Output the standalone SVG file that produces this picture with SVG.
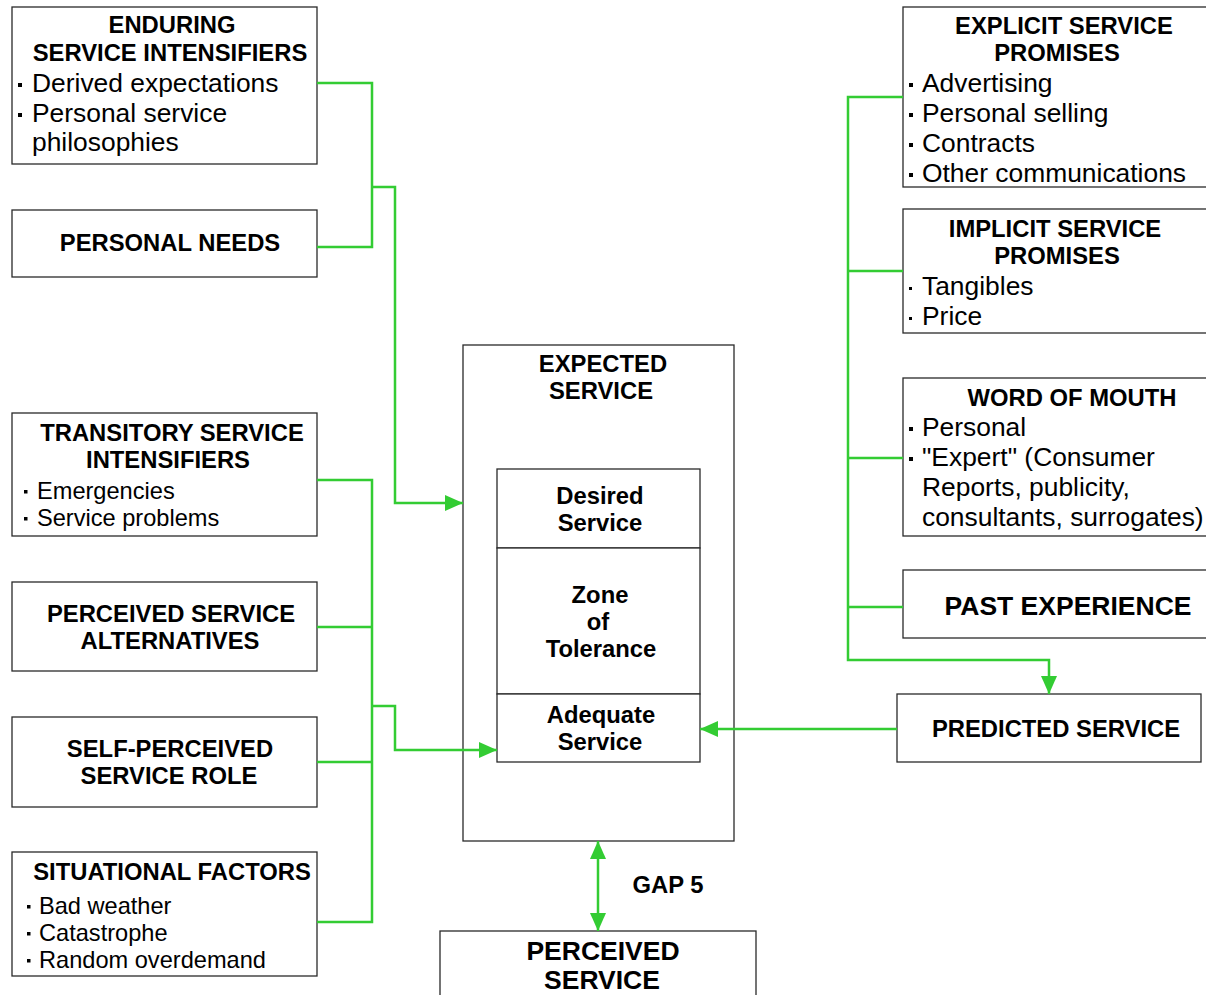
<svg xmlns="http://www.w3.org/2000/svg" width="1206" height="995" viewBox="0 0 1206 995">
<style>
  .box { fill: #ffffff; stroke: #2a2a2a; stroke-width: 1.3; }
  .b { font-family: "Liberation Sans", Arial, sans-serif; font-weight: bold; font-size: 23.8px; fill: #000; text-anchor: middle; }
  .bb { font-family: "Liberation Sans", Arial, sans-serif; font-weight: bold; font-size: 26.5px; fill: #000; text-anchor: middle; }
  .r { font-family: "Liberation Sans", Arial, sans-serif; font-size: 26.4px; fill: #000; }
  .rs { font-family: "Liberation Sans", Arial, sans-serif; font-size: 23.6px; fill: #000; }
  .dot { fill: #000; }
  .conn { fill: none; stroke: #33cc33; stroke-width: 2.5; }
</style>
<defs>
  <marker id="arr" viewBox="0 0 18 16" refX="18" refY="8" markerWidth="18" markerHeight="16" markerUnits="userSpaceOnUse" orient="auto-start-reverse">
    <path d="M0,0 L18,8 L0,16 z" fill="#33cc33"/>
  </marker>
</defs>

<g id="enduring">
  <rect class="box" x="12" y="7" width="305" height="157"/>
  <text class="b" x="172" y="33">ENDURING</text>
  <text class="b" x="170" y="61">SERVICE INTENSIFIERS</text>
  <rect class="dot" x="18" y="83" width="4" height="4"/>
  <text class="r" x="32" y="92">Derived expectations</text>
  <rect class="dot" x="18" y="113" width="4" height="4"/>
  <text class="r" x="32" y="122">Personal service</text>
  <text class="r" x="32" y="151">philosophies</text>
</g>

<g id="personal-needs">
  <rect class="box" x="12" y="210" width="305" height="67"/>
  <text class="b" x="170" y="251">PERSONAL NEEDS</text>
</g>

<g id="transitory">
  <rect class="box" x="12" y="413" width="305" height="123"/>
  <text class="b" x="172" y="441">TRANSITORY SERVICE</text>
  <text class="b" x="168" y="468">INTENSIFIERS</text>
  <rect class="dot" x="24" y="490" width="3.5" height="3.5"/>
  <text class="rs" x="37" y="499">Emergencies</text>
  <rect class="dot" x="24" y="517" width="3.5" height="3.5"/>
  <text class="rs" x="37" y="526">Service problems</text>
</g>

<g id="alternatives">
  <rect class="box" x="12" y="582" width="305" height="89"/>
  <text class="b" x="171" y="622">PERCEIVED SERVICE</text>
  <text class="b" x="170" y="649">ALTERNATIVES</text>
</g>

<g id="self-perceived">
  <rect class="box" x="12" y="717" width="305" height="90"/>
  <text class="b" x="170" y="757">SELF-PERCEIVED</text>
  <text class="b" x="169" y="784">SERVICE ROLE</text>
</g>

<g id="situational">
  <rect class="box" x="12" y="852" width="305" height="124"/>
  <text class="b" x="172" y="880">SITUATIONAL FACTORS</text>
  <rect class="dot" x="27" y="905" width="3.5" height="3.5"/>
  <text class="rs" x="39" y="914">Bad weather</text>
  <rect class="dot" x="27" y="932" width="3.5" height="3.5"/>
  <text class="rs" x="39" y="941">Catastrophe</text>
  <rect class="dot" x="27" y="959" width="3.5" height="3.5"/>
  <text class="rs" x="39" y="968">Random overdemand</text>
</g>

<g id="explicit">
  <rect class="box" x="903" y="7" width="310" height="180"/>
  <text class="b" x="1064" y="34">EXPLICIT SERVICE</text>
  <text class="b" x="1057" y="61">PROMISES</text>
  <rect class="dot" x="909" y="83" width="4" height="4"/>
  <text class="r" x="922" y="92">Advertising</text>
  <rect class="dot" x="909" y="113" width="4" height="4"/>
  <text class="r" x="922" y="122">Personal selling</text>
  <rect class="dot" x="909" y="143" width="4" height="4"/>
  <text class="r" x="922" y="152">Contracts</text>
  <rect class="dot" x="909" y="173" width="4" height="4"/>
  <text class="r" x="922" y="182">Other communications</text>
</g>

<g id="implicit">
  <rect class="box" x="903" y="209" width="310" height="124"/>
  <text class="b" x="1055" y="237">IMPLICIT SERVICE</text>
  <text class="b" x="1057" y="264">PROMISES</text>
  <rect class="dot" x="909" y="287" width="3" height="3"/>
  <text class="r" x="922" y="295">Tangibles</text>
  <rect class="dot" x="909" y="317" width="3" height="3"/>
  <text class="r" x="922" y="325">Price</text>
</g>

<g id="word-of-mouth">
  <rect class="box" x="903" y="378" width="310" height="158"/>
  <text class="b" x="1072" y="406">WORD OF MOUTH</text>
  <rect class="dot" x="909" y="427" width="4" height="4"/>
  <text class="r" x="922" y="436">Personal</text>
  <rect class="dot" x="909" y="457" width="4" height="4"/>
  <text class="r" x="922" y="466">"Expert" (Consumer</text>
  <text class="r" x="922" y="496">Reports, publicity,</text>
  <text class="r" x="922" y="526">consultants, surrogates)</text>
</g>

<g id="past-experience">
  <rect class="box" x="903" y="570" width="310" height="68"/>
  <text class="bb" x="1068" y="615">PAST EXPERIENCE</text>
</g>

<g id="predicted-service">
  <rect class="box" x="897" y="694" width="304" height="68"/>
  <text class="b" x="1056" y="737">PREDICTED SERVICE</text>
</g>

<g id="expected-service">
  <rect class="box" x="463" y="345" width="271" height="496"/>
  <text class="b" x="603" y="372">EXPECTED</text>
  <text class="b" x="601" y="399">SERVICE</text>
</g>

<g id="desired-service">
  <rect class="box" x="497" y="469" width="203" height="79"/>
  <text class="b" x="600" y="504">Desired</text>
  <text class="b" x="600" y="531">Service</text>
</g>

<g id="zone-of-tolerance">
  <rect class="box" x="497" y="548" width="203" height="146"/>
  <text class="b" x="600" y="603">Zone</text>
  <text class="b" x="598" y="630">of</text>
  <text class="b" x="601" y="657">Tolerance</text>
</g>

<g id="adequate-service">
  <rect class="box" x="497" y="694" width="203" height="68"/>
  <text class="b" x="601" y="723">Adequate</text>
  <text class="b" x="600" y="750">Service</text>
</g>

<g id="perceived-service">
  <rect class="box" x="440" y="931" width="316" height="80"/>
  <text class="bb" x="603" y="960">PERCEIVED</text>
  <text class="bb" x="602" y="989">SERVICE</text>
</g>

<g id="gap5-label">
  <text class="b" x="668" y="893">GAP 5</text>
</g>

<g id="connectors">
  <path class="conn" d="M317,83 H372 V247 H317"/>
  <path class="conn" d="M372,187 H395 V503 H463" marker-end="url(#arr)"/>
  <path class="conn" d="M317,480 H372 V922 H317"/>
  <path class="conn" d="M317,627 H372"/>
  <path class="conn" d="M317,762 H372"/>
  <path class="conn" d="M372,706 H395 V750 H497" marker-end="url(#arr)"/>
  <path class="conn" d="M903,97 H848 V660 H1049 V694" marker-end="url(#arr)"/>
  <path class="conn" d="M903,271 H848"/>
  <path class="conn" d="M903,458 H848"/>
  <path class="conn" d="M903,607 H848"/>
  <path class="conn" d="M897,729 H700" marker-end="url(#arr)"/>
  <path class="conn" d="M598,841 V931" marker-start="url(#arr)" marker-end="url(#arr)"/>
</g>
</svg>
